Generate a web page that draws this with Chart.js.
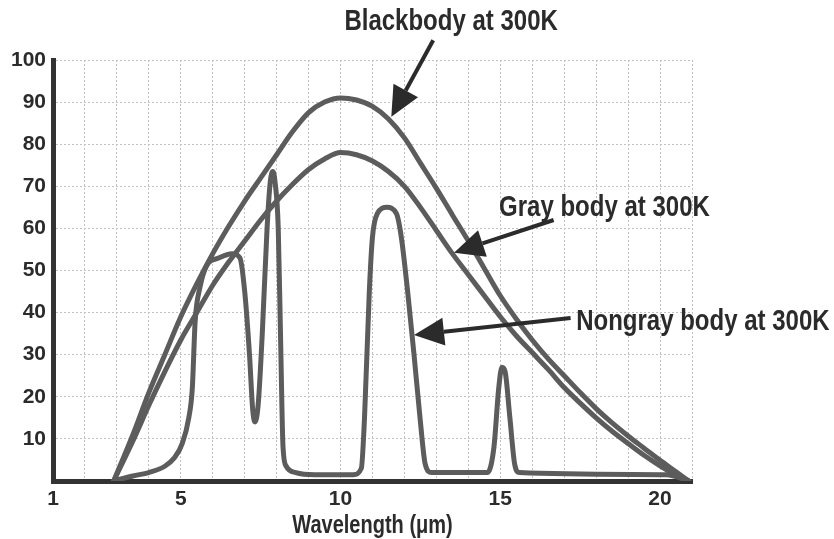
<!DOCTYPE html>
<html lang="en">
<head>
  <meta charset="UTF-8">
  <title>Blackbody, gray body and nongray body at 300K</title>
  <style>
    html, body { margin: 0; padding: 0; background: #fff; }
    #wrap { width: 834px; height: 539px; }
  </style>
</head>
<body>
  <div id="wrap"><canvas id="chart" width="834" height="539"></canvas></div>

  <script src="https://cdn.jsdelivr.net/npm/chart.js@4"></script>
  <script>
    // wavelength (um) and emissive power
    const wavelengths = [2.9, 3.5, 4, 4.5, 5, 5.5, 6, 6.5, 7, 7.5, 8, 8.5, 9, 9.5, 10, 10.5, 11, 11.5,
                         12, 12.5, 13, 13.5, 14, 14.5, 15, 15.5, 16, 16.5, 17, 17.5, 18, 18.5, 19, 19.5, 20, 20.5, 20.9];
    const blackbody = [0, 11, 21, 30, 39, 46.8, 54, 60.5, 66.5, 72, 77.5, 83, 87.5, 90, 91, 90.5, 89, 86,
                       81.5, 75.5, 69.5, 63.2, 57, 50.5, 44, 38.5, 33.5, 29, 25, 21, 17.2, 13.8, 10.7, 7.8, 4.9, 2.2, 0];
    const graybody = [0, 9.5, 18, 26, 33.5, 40, 46.5, 52, 57, 62, 66.5, 70.5, 74, 76.5, 78, 77.5, 76, 73.5,
                      70, 65, 59.5, 54, 49, 44, 39, 34.5, 30.5, 26.5, 22.2, 18.5, 15, 11.8, 8.9, 6.1, 3.6, 1.4, 0];

    const nongrayWavelengths = [2.9, 3.5, 4, 4.5, 4.8, 5.05, 5.25, 5.36, 5.45, 5.6, 5.8, 6.2, 6.6, 6.85,
                                7.0, 7.15, 7.25, 7.32, 7.42, 7.55, 7.7, 7.8, 7.88, 7.95, 8.05, 8.12, 8.2, 8.3,
                                8.6, 9.2, 10.4, 10.65, 10.75, 10.9, 11.0, 11.15, 11.45, 11.75, 11.9, 12.1, 12.3,
                                12.5, 12.65, 12.85, 14.6, 14.8, 14.95, 15.05, 15.15, 15.3, 15.45, 15.6, 20.2, 20.9];
    const nongray = [0, 1.2, 2, 3.5, 5.5, 9, 15, 22, 38, 46, 51, 53, 54, 53,
                     45, 30, 17, 14, 18, 35, 60, 71, 73.5, 71, 60, 35, 8, 3.5,
                     2, 1.5, 1.5, 3, 15, 45, 58, 63.5, 65, 63.5, 58, 45, 30,
                     14, 4, 2, 2, 8, 22, 27, 26, 15, 4, 2, 1.5, 0];

    const xTickLabels = [1, 5, 10, 15, 20];
    const yTickLabels = [10, 20, 30, 40, 50, 60, 70, 80, 90, 100];
    const xTitle = 'Wavelength (\u03bcm)';

    // curve labels: text, text centre and arrow tail/tip, all in data units
    const labelTexts = ['Blackbody at 300K', 'Gray body at 300K', 'Nongray body at 300K'];
    const labelAt = [[13.46, 109], [18.26, 65], [21.34, 37.8]];
    const arrowFrom = [[12.9, 104.7], [16.67, 62], [17.2, 38.7]];
    const arrowTo = [[11.59, 86.5], [13.55, 54.2], [12.3, 34.7]];

    const FONT = "'Liberation Sans', Arial, sans-serif";
    const INK = '#2b2b2b';
    const CURVE = '#5c5c5c';

    const toPoints = (xs, ys) => xs.map((x, i) => ({ x: x, y: ys[i] }));

    // the figure uses a condensed face, so squeeze the text sideways
    function narrowText(ctx, text, x, y, size, squeeze) {
      ctx.save();
      ctx.font = 'bold ' + size + 'px ' + FONT;
      ctx.textAlign = 'center';
      ctx.textBaseline = 'middle';
      ctx.translate(x, y);
      ctx.scale(squeeze, 1);
      ctx.fillText(text, 0, 0);
      ctx.restore();
    }

    function drawArrow(ctx, x1, y1, x2, y2) {
      const ang = Math.atan2(y2 - y1, x2 - x1);
      const head = 30, half = 14;
      const bx = x2 - head * Math.cos(ang);
      const by = y2 - head * Math.sin(ang);
      ctx.lineWidth = 4;
      ctx.beginPath();
      ctx.moveTo(x1, y1);
      ctx.lineTo(bx, by);
      ctx.stroke();
      ctx.beginPath();
      ctx.moveTo(x2, y2);
      ctx.lineTo(bx + half * Math.sin(ang), by - half * Math.cos(ang));
      ctx.lineTo(bx - half * Math.sin(ang), by + half * Math.cos(ang));
      ctx.closePath();
      ctx.fill();
    }

    const curveLabels = {
      id: 'curveLabels',
      afterDraw(chart) {
        const { ctx, scales: { x, y } } = chart;
        ctx.save();
        ctx.strokeStyle = INK;
        ctx.fillStyle = INK;
        labelTexts.forEach((text, i) => {
          drawArrow(ctx,
            x.getPixelForValue(arrowFrom[i][0]), y.getPixelForValue(arrowFrom[i][1]),
            x.getPixelForValue(arrowTo[i][0]), y.getPixelForValue(arrowTo[i][1]));
          narrowText(ctx, text, x.getPixelForValue(labelAt[i][0]), y.getPixelForValue(labelAt[i][1]), 30, 0.8);
        });
        // axis title, centred under the x axis
        narrowText(ctx, xTitle, (x.left + x.right) / 2, x.bottom - 13, 26, 0.77);
        ctx.restore();
      }
    };

    const lineStyle = {
      borderColor: CURVE,
      borderWidth: 5,
      pointRadius: 0,
      fill: false,
      tension: 0.4,
      cubicInterpolationMode: 'monotone',
      borderCapStyle: 'round',
      borderJoinStyle: 'round'
    };

    const tickFont = { family: FONT, size: 21, weight: 'bold' };

    new Chart(document.getElementById('chart'), {
      type: 'line',
      data: {
        datasets: [
          Object.assign({ label: 'Blackbody at 300K', data: toPoints(wavelengths, blackbody) }, lineStyle),
          Object.assign({ label: 'Gray body at 300K', data: toPoints(wavelengths, graybody) }, lineStyle),
          Object.assign({ label: 'Nongray body at 300K', data: toPoints(nongrayWavelengths, nongray) }, lineStyle)
        ]
      },
      options: {
        responsive: false,
        animation: false,
        devicePixelRatio: 1,
        layout: { padding: { left: 0, top: 60, right: 142, bottom: 0 } },
        plugins: { legend: { display: false }, tooltip: { enabled: false } },
        scales: {
          x: {
            type: 'linear',
            min: 1,
            max: 21,
            afterFit: s => { s.height = 58; },
            grid: { color: '#c2c2c2', lineWidth: 1, drawTicks: false },
            border: { display: true, color: '#333', width: 5, dash: [2, 2] },
            ticks: {
              stepSize: 1,
              autoSkip: false,
              maxRotation: 0,
              padding: 6,
              color: INK,
              font: tickFont,
              callback: v => xTickLabels.includes(v) ? String(v) : ''
            }
          },
          y: {
            min: 0,
            max: 100,
            afterFit: s => { s.width = 53; },
            grid: { color: '#c2c2c2', lineWidth: 1, drawTicks: false },
            border: { display: true, color: '#333', width: 5, dash: [2, 2] },
            ticks: {
              stepSize: 10,
              padding: 7,
              color: INK,
              font: tickFont,
              callback: v => yTickLabels.includes(v) ? String(v) : ''
            }
          }
        }
      },
      plugins: [curveLabels]
    });
  </script>
</body>
</html>
